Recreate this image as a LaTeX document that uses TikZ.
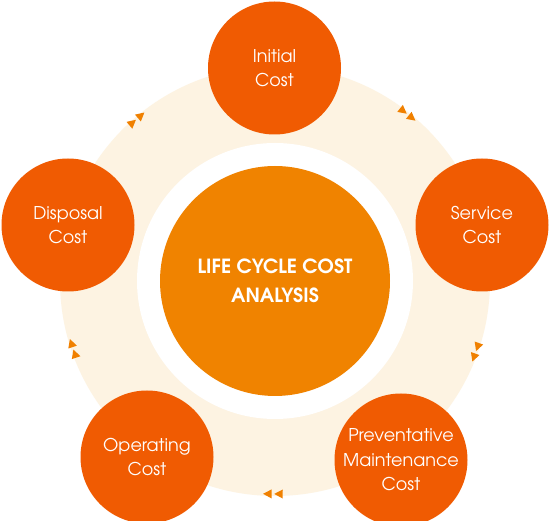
\documentclass[tikz,border=0pt]{standalone}
\usepackage{fontspec}
\setmainfont{TeX Gyre Adventor}
\definecolor{outerc}{RGB}{240,91,2}
\definecolor{centerc}{RGB}{240,131,0}
\definecolor{ringc}{RGB}{253,243,226}
\definecolor{arrowc}{RGB}{240,128,0}
\begin{document}
\begin{tikzpicture}[x=1pt,y=1pt,
  stage/.style={circle, fill=outerc, minimum size=133pt, inner sep=0pt, text=white, align=center, font=\fontsize{17.6}{24.5}\selectfont},
  hub/.style={circle, fill=centerc, minimum size=230pt, inner sep=0pt, text=white, align=center, font=\bfseries\fontsize{19.5}{29}\selectfont},
  tick/.style={fill=arrowc}]
\useasboundingbox (0,0) rectangle (550,-521);
\fill[white] (0,0) rectangle (550,-521);
\coordinate (c) at (275,-281);
\fill[ringc] (c) circle (215pt);
\fill[white] (c) circle (138pt);
\node[hub] (hub) at (c) {LIFE CYCLE COST\\ANALYSIS};
\foreach \a in {51.5,-19.5,-90.5,-161.5,130.5} {
  \foreach \d in {1.5,-1.5} {
    \pgfmathsetmacro{\ang}{\a+\d}
    \pgfmathsetmacro{\rot}{\a-90}
    \begin{scope}[shift={(c)}]
      \fill[tick, shift={(\ang:213)}, rotate=\rot] (4.5,0) -- (-4,4.5) -- (-4,-4.5) -- cycle;
    \end{scope}
  }
}
\node[stage] (initial) at (274.5,-68) {Initial\\Cost};
\node[stage] (service) at (482,-225) {Service\\Cost};
\node[stage] (prev) at (401,-460) {Preventative\\Maintenance\\Cost};
\node[stage] (oper) at (147,-457) {Operating\\Cost};
\node[stage] (disp) at (68,-225) {Disposal\\Cost};
\end{tikzpicture}
\end{document}
